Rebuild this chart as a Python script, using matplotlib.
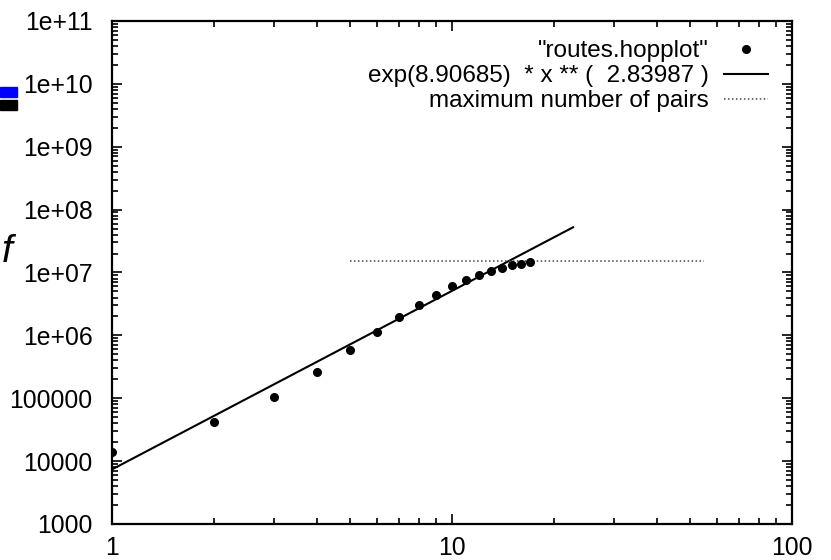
import numpy as np
import matplotlib
matplotlib.use('Agg')
import matplotlib.pyplot as plt
from matplotlib.ticker import LogLocator, FixedLocator, FixedFormatter, NullFormatter

plt.rcParams['font.family'] = ['Liberation Sans', 'DejaVu Sans']

# hop plot: number of pairs within h hops
hops = [1, 2, 3, 4, 5, 6, 7, 8, 9, 10, 11, 12, 13, 14, 15, 16, 17]
pairs = [1.4e4, 4.2e4, 1.05e5, 2.6e5, 5.8e5, 1.14e6, 1.95e6, 3.05e6, 4.4e6,
         6.2e6, 7.7e6, 9.0e6, 1.07e7, 1.2e7, 1.3e7, 1.38e7, 1.45e7]

# power law fit: exp(a) * x ** b
fit_a = 8.90685
fit_b = 2.83987
fit_range = [1, 22.7]

# maximum number of pairs
max_pairs = 1.55e7
max_range = [5, 55]

xticks = [1, 10, 100]
xticklabels = ['1', '10', '100']
yticks = [1e3, 1e4, 1e5, 1e6, 1e7, 1e8, 1e9, 1e10, 1e11]
yticklabels = ['1000', '10000', '100000', '1e+06', '1e+07', '1e+08', '1e+09', '1e+10', '1e+11']

fig = plt.figure(figsize=(8.31, 5.6), dpi=100)
ax = fig.add_axes([0.1348, 0.0643, 0.8183, 0.8982])

ax.plot(hops, pairs, 'o', color='black', markersize=5.5, label='"routes.hopplot"', zorder=3)

xf = np.logspace(np.log10(fit_range[0]), np.log10(fit_range[1]), 100)
ax.plot(xf, np.exp(fit_a) * xf ** fit_b, '-', color='black', lw=1.5,
        label='exp(%.5f)  * x ** (  %.5f )' % (fit_a, fit_b))

ax.plot(max_range, [max_pairs, max_pairs], color='#444444', lw=1.1,
        linestyle=(0, (1, 1.6)), label='maximum number of pairs')

ax.set_xscale('log')
ax.set_yscale('log')
ax.set_xlim(1, 100)
ax.set_ylim(1e3, 1e11)

ax.xaxis.set_major_locator(FixedLocator(xticks))
ax.xaxis.set_major_formatter(FixedFormatter(xticklabels))
ax.yaxis.set_major_locator(FixedLocator(yticks))
ax.yaxis.set_major_formatter(FixedFormatter(yticklabels))
ax.xaxis.set_minor_locator(LogLocator(base=10, subs=np.arange(2, 10)))
ax.yaxis.set_minor_locator(LogLocator(base=10, subs=np.arange(2, 10), numticks=20))
ax.xaxis.set_minor_formatter(NullFormatter())
ax.yaxis.set_minor_formatter(NullFormatter())

ax.tick_params(which='both', direction='in', top=True, right=True, width=1.2)
ax.tick_params(which='major', length=7, labelsize=17.8)
ax.tick_params(which='minor', length=4)
ax.tick_params(axis='x', pad=9)
ax.tick_params(axis='y', pad=14)
for sp in ax.spines.values():
    sp.set_linewidth(1.6)

leg = ax.legend(loc='upper right', bbox_to_anchor=(0.965, 0.962), frameon=False,
                markerfirst=False, fontsize=17.5, handlelength=1.8, handletextpad=0.65,
                labelspacing=0.13, borderaxespad=0, borderpad=0)

# page fragments at the left edge
fig.patches.append(plt.Rectangle((0, 1 - 97 / 560), 17 / 831, 10 / 560,
                                 transform=fig.transFigure, color='#0000ff', zorder=5))
fig.patches.append(plt.Rectangle((0, 1 - 110 / 560), 17 / 831, 10 / 560,
                                 transform=fig.transFigure, color='black', zorder=5))
fig.text(0.002, 1 - 252 / 560, 'f', fontsize=28, style='italic', va='center', ha='left')

fig.savefig('out.png', dpi=100)
